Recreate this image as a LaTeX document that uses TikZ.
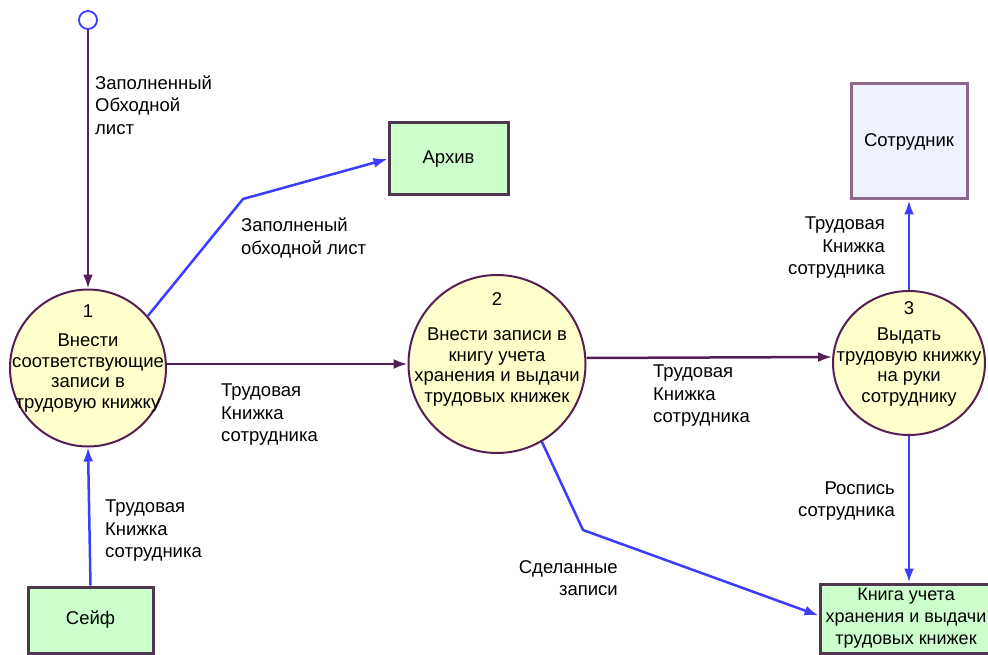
\documentclass[tikz,border=0pt]{standalone}
\usepackage{fontspec}
\setmainfont{Liberation Sans}
\usetikzlibrary{shapes, arrows, arrows.meta, positioning}
\definecolor{purp}{RGB}{85,30,85}
\definecolor{flowblue}{RGB}{60,60,255}
\definecolor{procfill}{RGB}{255,255,204}
\definecolor{storefill}{RGB}{204,255,204}
\definecolor{extfill}{RGB}{238,242,252}
\definecolor{boxline}{RGB}{80,55,80}
\definecolor{extline}{RGB}{140,105,140}
\tikzstyle{pflow}  = [draw=purp, line width=2.5pt, -{Latex[length=14pt, width=10pt]}]
\tikzstyle{bflow}  = [draw=flowblue, line width=2.5pt, -{Latex[length=14pt, width=10pt]}]
\tikzstyle{proc}   = [draw=purp, line width=2pt, ellipse, fill=procfill, inner sep=0pt]
\tikzstyle{ptext}  = [align=center, inner sep=0pt, font=\fontsize{18.5}{20.5}\selectfont]
\tikzstyle{store}  = [draw=boxline, line width=3pt, rectangle, fill=storefill, inner sep=0pt, align=center, font=\fontsize{18.5}{22}\selectfont]
\tikzstyle{extern} = [draw=extline, line width=3pt, rectangle, fill=extfill, inner sep=0pt, font=\fontsize{18.5}{22}\selectfont]
\tikzstyle{lbl}    = [inner sep=0pt, font=\fontsize{18.5}{22.5}\selectfont]
\tikzstyle{start}  = [draw=flowblue, line width=1.8pt, circle, fill=white, minimum size=18pt, inner sep=0pt]

\begin{document}
\begin{tikzpicture}[x=1pt, y=-1pt]
\useasboundingbox [fill=white] (0,0) rectangle (988,655);

% nodes
\node [start]                                         at ( 88,  20) (s0)   {};
\node [proc, minimum width=156pt, minimum height=157pt] at ( 88, 368) (p1)   {};
\node [proc, minimum width=177pt, minimum height=178pt] at (497, 364) (p2)   {};
\node [proc, minimum width=152pt, minimum height=144pt] at (909, 363) (p3)   {};
\node [ptext] at ([yshift=-5pt]p1.center) (t1) {Внести\\соответствующие\\записи в\\трудовую книжку};
\node [ptext] at ([yshift=-3pt]p2.center) (t2) {Внести записи в\\книгу учета\\хранения и выдачи\\трудовых книжек};
\node [ptext] at ([yshift=-4pt]p3.center) (t3) {Выдать\\трудовую книжку\\на руки\\сотруднику};
\node [ptext] at ([yshift=-23pt]p1.north) (n1) {1};
\node [ptext] at ([yshift=-25pt]p2.north) (n2) {2};
\node [ptext] at ([yshift=-18pt]p3.north) (n3) {3};
\node [store, minimum width=119pt, minimum height=72pt]  at (448.5, 159)   (arch) {Архив};
\node [store, minimum width=125pt, minimum height=66pt]  at ( 90.5, 620)   (safe) {Сейф};
\node [store, minimum width=172pt, minimum height=69pt, font=\fontsize{18}{22}\selectfont]
                                                        at (906, 618.5)   (book) {Книга учета\\хранения и выдачи\\трудовых книжек};
\node [extern, minimum width=116pt, minimum height=115pt] at (909, 141.5) (emp)  {Сотрудник};
\coordinate (k1) at (243, 199);
\coordinate (k2) at (583, 530);

% edges
\path (s0)                  edge [pflow] (p1)
      (p2.west -| p1.east)  edge [pflow] (p2.west)
      ([yshift=6pt]p2.east) edge [pflow] ([yshift=6pt]p3.west);
\path (safe.north)          edge [bflow] (p1.south)
      (p3.north)            edge [bflow] (p3.north |- emp.south)
      (p3.south)            edge [bflow] (p3.south |- book.north);
\draw [bflow] (p1.41) -- (k1) -- (arch.west);
\draw [bflow] (p2.-60) -- (k2) -- ([yshift=3pt]book.west);

% labels
\node [lbl, anchor=west, align=left]  at ( 95, 105) (l0) {Заполненный\\Обходной\\лист};
\node [lbl, anchor=west, align=left]  at (241, 238) (l1) {Заполненый\\обходной лист};
\node [lbl, anchor=west, align=left]  at (221, 415) (l2) {Трудовая\\Книжка\\сотрудника};
\node [lbl, anchor=west, align=left]  at (653, 396) (l3) {Трудовая\\Книжка\\сотрудника};
\node [lbl, anchor=west, align=left]  at (105, 531) (l4) {Трудовая\\Книжка\\сотрудника};
\node [lbl, anchor=east, align=right] at (885, 248) (l5) {Трудовая\\Книжка\\сотрудника};
\node [lbl, anchor=east, align=right] at (895, 501) (l6) {Роспись\\сотрудника};
\node [lbl, anchor=east, align=right] at (618, 578) (l7) {Сделанные\\записи};

\end{tikzpicture}
\end{document}
